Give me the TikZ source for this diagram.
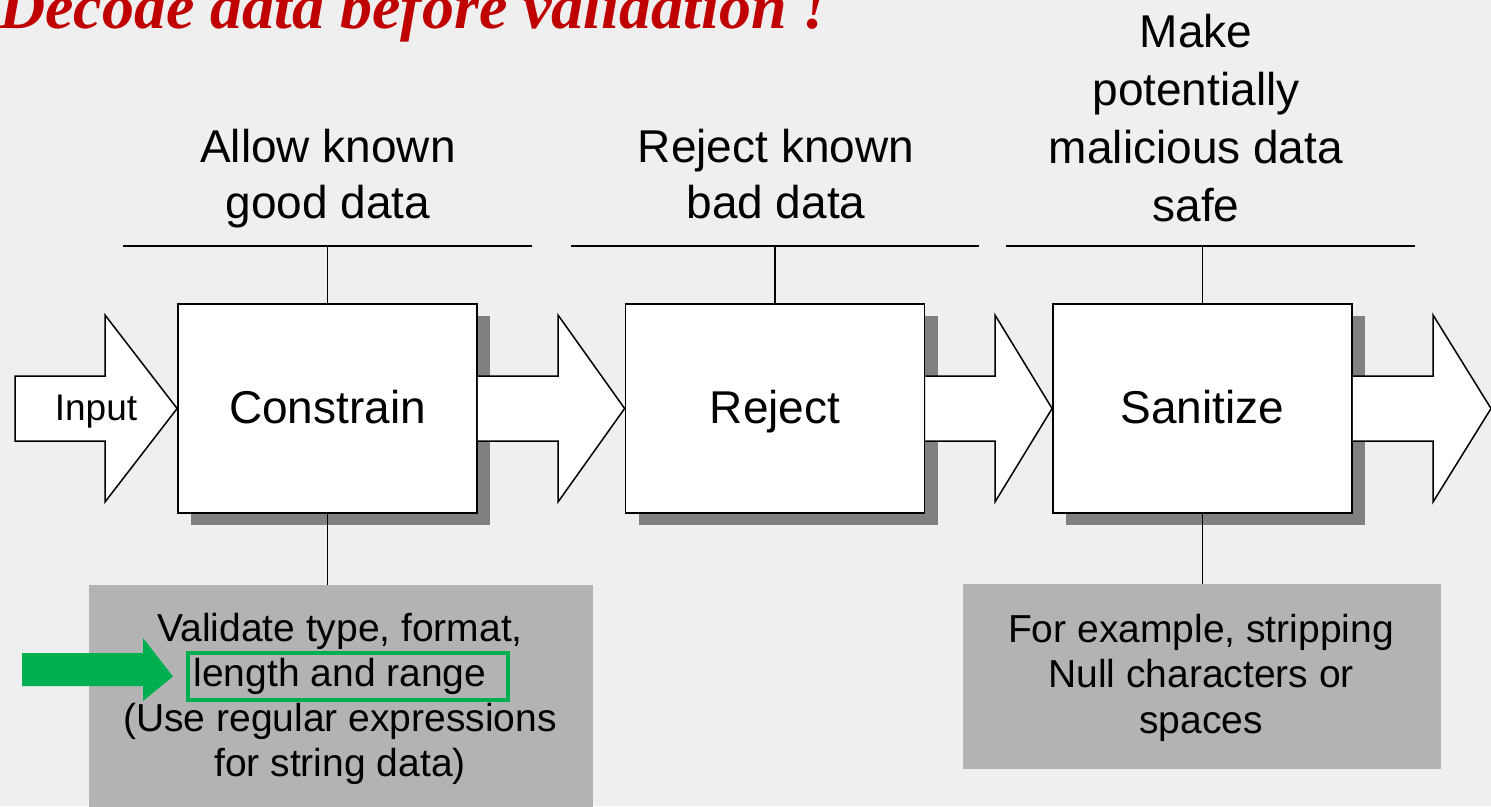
\documentclass[tikz,border=0pt]{standalone}
\usepackage{fontspec}
\setmainfont{Liberation Sans}
\newfontfamily\titlefont{Liberation Serif}
\usetikzlibrary{calc,shadows}
\definecolor{pagebg}{HTML}{EFEFEF}
\definecolor{shade}{HTML}{808080}
\definecolor{notegray}{HTML}{B3B3B3}
\definecolor{hilite}{HTML}{00B050}
\definecolor{titlered}{HTML}{C00000}
\begin{document}
\begin{tikzpicture}[x=1pt,y=-1pt,
  stage/.style={draw=black,line width=1.8pt,fill=white,
    minimum width=299pt,minimum height=209pt,inner sep=0pt,
    text height=39pt,text depth=10pt,
    font=\fontsize{46}{56}\selectfont,
    drop shadow={fill=shade,opacity=1,shadow xshift=13pt,shadow yshift=-12pt}},
  flow/.style={draw=black,line width=1.5pt,fill=white,line join=miter},
  link/.style={draw=black,line width=1.6pt},
  label/.style={anchor=base,align=center,inner sep=0pt},
  notebox/.style={fill=notegray,inner sep=0pt,anchor=north west},
  notetext/.style={anchor=base,align=center,inner sep=0pt,
    font=\fontsize{39}{45}\selectfont}]

% page
\fill[pagebg] (0,0) rectangle (1491,806);
\useasboundingbox (0,0) rectangle (1491,806);

% heading
\node[anchor=base west,inner sep=0pt,text=titlered,
  font=\titlefont\bfseries\itshape\fontsize{64}{64}\selectfont]
  (title) at (-1,28) {Decode data before validation !};

% the three stages
\node[stage] (c) at (327.5,408.5) {Constrain};
\node[stage] (r) at (775,408.5) {Reject};
\node[stage] (s) at (1202.5,408.5) {Sanitize};

% block arrows between the stages
\draw[flow] (15,441) -- (15,376) -- (105,376) -- (105,315) -- (c.west)
  -- (105,502) -- (105,441) -- cycle;
\node[inner sep=0pt,anchor=base,font=\fontsize{37}{40}\selectfont] (in) at (96,420) {Input};

\draw[flow] ($(c.east)+(0,-32.5)$) -- (558,376) -- (558,315) -- (r.west)
  -- (558,502) -- (558,441) -- ($(c.east)+(0,32.5)$);
\draw[flow] ($(r.east)+(0,-32.5)$) -- (995,376) -- (995,315) -- (s.west)
  -- (995,502) -- (995,441) -- ($(r.east)+(0,32.5)$);
\coordinate (out) at (1491,408.5);
\draw[flow] ($(s.east)+(0,-32.5)$) -- (1433,376) -- (1433,315) -- (out)
  -- (1433,502) -- (1433,441) -- ($(s.east)+(0,32.5)$);

% headings over the stages (base = last line)
\node[label,font=\fontsize{46}{56}\selectfont] (lc) at (328,218) {Allow known\\good data};
\node[label,font=\fontsize{46}{56}\selectfont] (lr) at (776,218) {Reject known\\bad data};
\node[label,font=\fontsize{46}{57.7}\selectfont] (ls) at (1196,221) {Make\\potentially\\malicious data\\safe};

\coordinate (bc) at (c.north |- 0,246);
\coordinate (br) at (r.north |- 0,246);
\coordinate (bs) at (s.north |- 0,246);
\draw[link] (123,246) -- (532,246);
\draw[link] (571,246) -- (979,246);
\draw[link] (1006,246) -- (1415,246);
\draw[link] (c.north) -- (bc);
\draw[link] (r.north) -- (br);
\draw[link] (s.north) -- (bs);

% notes below
\node[notebox,minimum width=504pt,minimum height=240pt] (nl) at (89,585) {};
\node[notebox,minimum width=478pt,minimum height=185pt] (nr) at (963,584) {};
\draw[link] (c.south) -- (c.south |- nl.north);
\draw[link] (s.south) -- (s.south |- nr.north);

\node[notetext] (tl) at (340,776)
  {Validate type, format,\\length and range\\(Use regular expressions\\for string data)};
\node[notetext,font=\fontsize{39}{45.5}\selectfont] (tr) at (1201,733)
  {For example, stripping\\Null characters or\\spaces};

% highlight
\node[draw=hilite,line width=4pt,minimum width=320pt,minimum height=47pt,inner sep=0pt]
  (hl) at (348,676.5) {};
\fill[hilite] (22,653) -- (143,653) -- (143,638) -- ($(hl.west)+(-13,0)$)
  -- (143,701) -- (143,686) -- (22,686) -- cycle;
\end{tikzpicture}
\end{document}
